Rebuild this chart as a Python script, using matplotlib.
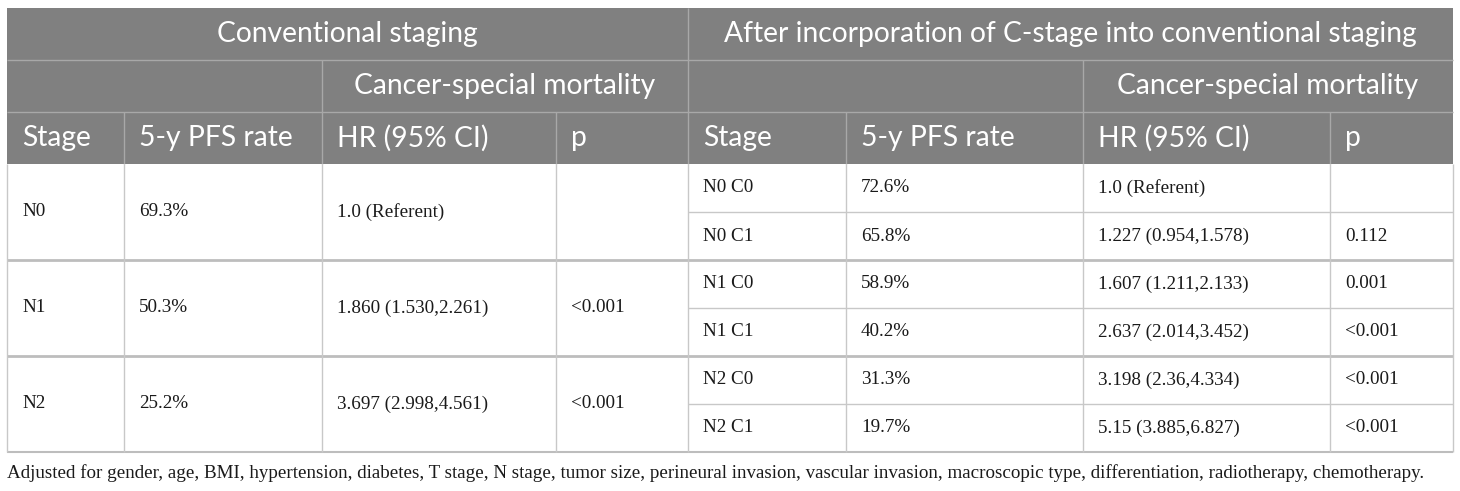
import matplotlib
matplotlib.use("Agg")
import matplotlib.pyplot as plt
from matplotlib.patches import Rectangle

# ---- table content ----
left_title = "Conventional staging"
right_title = "After incorporation of C-stage into conventional staging"
sub_title = "Cancer-special mortality"
col_heads = ["Stage", "5-y PFS rate", "HR (95% CI)", "p"]

left_stages = ["N0", "N1", "N2"]
left_pfs = ["69.3%", "50.3%", "25.2%"]
left_hr = ["1.0 (Referent)", "1.860 (1.530,2.261)", "3.697 (2.998,4.561)"]
left_p = ["", "<0.001", "<0.001"]

right_stages = ["N0 C0", "N0 C1", "N1 C0", "N1 C1", "N2 C0", "N2 C1"]
right_pfs = ["72.6%", "65.8%", "58.9%", "40.2%", "31.3%", "19.7%"]
right_hr = ["1.0 (Referent)", "1.227 (0.954,1.578)", "1.607 (1.211,2.133)",
            "2.637 (2.014,3.452)", "3.198 (2.36,4.334)", "5.15 (3.885,6.827)"]
right_p = ["", "0.112", "0.001", "<0.001", "<0.001", "<0.001"]

footnote = ("Adjusted for gender, age, BMI, hypertension, diabetes, T stage, N stage, tumor size, "
            "perineural invasion, vascular invasion, macroscopic type, differentiation, "
            "radiotherapy, chemotherapy.")

# ---- layout (pixels) ----
W, H = 1460, 491
left_cols = [7, 124, 322, 556, 688]
right_cols = [688, 846, 1083, 1330, 1453]
head_rows = [8, 60, 112, 164]
body_top, sub_h = 164, 48
pad = 15

head_bg = "#808080"
head_line = "#a8a8a8"
body_line = "#c8c8c8"
sans = ["Lato", "DejaVu Sans"]
serif = ["Liberation Serif", "DejaVu Serif"]
hsize, bsize = 20.3, 13.8

fig = plt.figure(figsize=(W / 100, H / 100), dpi=100)
ax = fig.add_axes([0, 0, 1, 1])
ax.set_xlim(0, W)
ax.set_ylim(H, 0)
ax.axis("off")

x0, x1 = left_cols[0], right_cols[-1]
ax.add_patch(Rectangle((x0, head_rows[0]), x1 - x0, head_rows[-1] - head_rows[0],
                       facecolor=head_bg, edgecolor="none"))

def hline(y, xa, xb, c, lw=1.0):
    ax.plot([xa, xb], [y, y], color=c, lw=lw, solid_capstyle="butt")

def vline(x, ya, yb, c, lw=1.0):
    ax.plot([x, x], [ya, yb], color=c, lw=lw, solid_capstyle="butt")

# header grid
hline(head_rows[1], x0, x1, head_line)
hline(head_rows[2], x0, x1, head_line)
vline(688, head_rows[0], head_rows[-1], head_line)
vline(left_cols[2], head_rows[1], head_rows[3], head_line)
vline(right_cols[2], head_rows[1], head_rows[3], head_line)
for cx in left_cols[1:4:2] + right_cols[1:4:2]:
    vline(cx, head_rows[2], head_rows[3], head_line)

def mid(a, b):
    return (a + b) / 2

ax.text(mid(x0, 688), mid(*head_rows[:2]), left_title, color="white",
        family=sans, fontsize=hsize, ha="center", va="center")
ax.text(mid(688, x1), mid(*head_rows[:2]), right_title, color="white",
        family=sans, fontsize=hsize, ha="center", va="center")
ax.text(mid(left_cols[2], 688), mid(*head_rows[1:3]), sub_title, color="white",
        family=sans, fontsize=hsize, ha="center", va="center")
ax.text(mid(right_cols[2], x1), mid(*head_rows[1:3]), sub_title, color="white",
        family=sans, fontsize=hsize, ha="center", va="center")
for cols in (left_cols, right_cols):
    for i, h in enumerate(col_heads):
        ax.text(cols[i] + pad, mid(*head_rows[2:4]), h, color="white",
                family=sans, fontsize=hsize, ha="left", va="center")

# body
n_sub = len(right_stages)
body_bot = body_top + n_sub * sub_h
for i in range(1, n_sub):
    y = body_top + i * sub_h
    if i % 2 == 0:
        hline(y, x0, x1, "#bdbdbd", lw=2.0)
    else:
        hline(y, 688, x1, body_line)
hline(body_bot, x0, x1, "#bdbdbd", lw=1.5)
for cx in left_cols + right_cols[1:]:
    vline(cx, body_top, body_bot, body_line)

for g, row in enumerate(zip(left_stages, left_pfs, left_hr, left_p)):
    yc = body_top + (2 * g + 1) * sub_h
    for j, val in enumerate(row):
        ax.text(left_cols[j] + pad, yc, val, family=serif, fontsize=bsize,
                color="#1a1a1a", ha="left", va="center")

for k, row in enumerate(zip(right_stages, right_pfs, right_hr, right_p)):
    yc = body_top + (k + 0.5) * sub_h
    for j, val in enumerate(row):
        ax.text(right_cols[j] + pad, yc, val, family=serif, fontsize=bsize,
                color="#1a1a1a", ha="left", va="center")

ax.text(x0, 473, footnote, family=serif, fontsize=13.7, color="#1a1a1a",
        ha="left", va="center")

fig.savefig("out.png", dpi=100)
